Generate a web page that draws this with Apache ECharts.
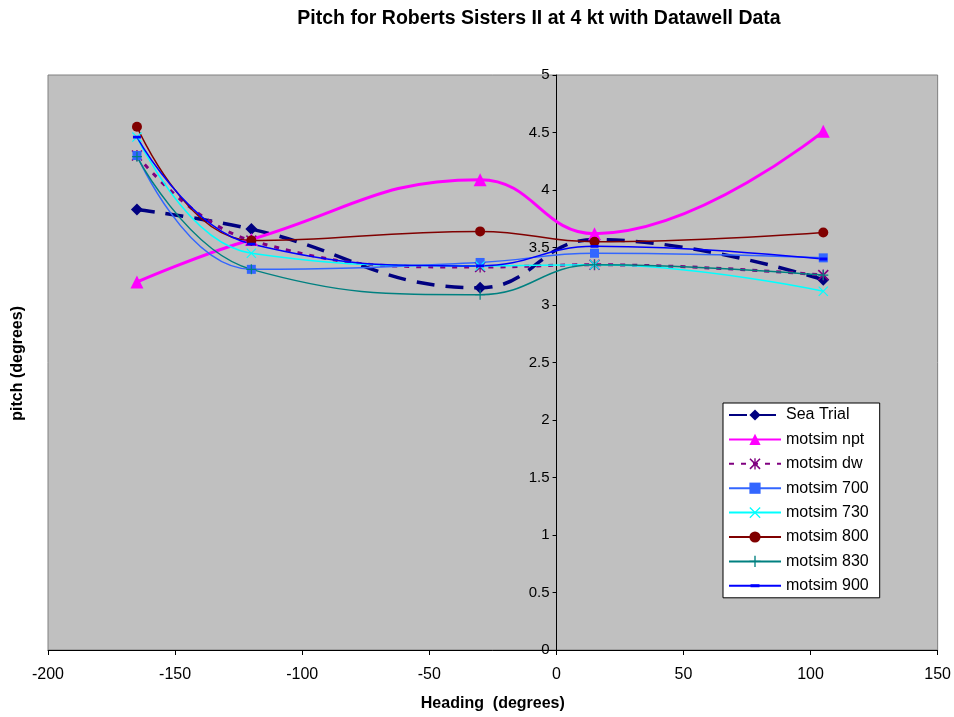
<!DOCTYPE html>
<html>
<head>
<meta charset="utf-8">
<script src="https://cdn.jsdelivr.net/npm/echarts@6/dist/echarts.min.js"></script>
<style>
  html, body { margin: 0; padding: 0; background: #fff; }
  #main { width: 954px; height: 717px; }
</style>
</head>
<body>
<div id="main"></div>
<script>
// headings (degrees) where each run was sampled
var headings = [-165, -120, -30, 15, 105];

// pitch values (degrees)
var seaTrial  = [3.83, 3.66, 3.15, 3.57, 3.22];
var motsimNpt = [3.20, 3.57, 4.09, 3.62, 4.51];
var motsimDw  = [4.30, 3.56, 3.33, 3.35, 3.26];
var motsim700 = [4.30, 3.31, 3.37, 3.45, 3.41];
var motsim730 = [4.46, 3.45, 3.34, 3.35, 3.12];
var motsim800 = [4.55, 3.56, 3.64, 3.55, 3.63];
var motsim830 = [4.29, 3.31, 3.09, 3.35, 3.26];
var motsim900 = [4.46, 3.53, 3.34, 3.51, 3.40];

var xTicks = { min: -200, max: 150, interval: 50 };
var yTicks = { min: 0, max: 5, interval: 0.5 };

var font = 'Arial, "Liberation Sans", sans-serif';

// grid box, the y axis sits on heading 0
var gridLeft = 48, gridRight = 16;
var plotW = 954 - gridLeft - gridRight;
var yAxisShift = -plotW * (0 - xTicks.min) / (xTicks.max - xTicks.min);

// marker shapes Excel used
var starPath = 'path://M0,1 L1,0 L10,9 L9,10 Z M9,0 L10,1 L1,10 L0,9 Z M4.4,0 L5.6,0 L5.6,10 L4.4,10 Z';
var xPath = 'path://M0,0.8 L0.8,0 L10,9.2 L9.2,10 Z M9.2,0 L10,0.8 L0.8,10 L0,9.2 Z';
var plusPath = 'path://M4.4,0 L5.6,0 L5.6,10 L4.4,10 Z M0,4.4 L10,4.4 L10,5.6 L0,5.6 Z';
// short dash inside a square box (the empty sub paths keep the box square)
var dashPath = 'path://M0,0 L10,0 L10,0 Z M0,10 L10,10 L10,10 Z M1,3.6 L9,3.6 L9,6.4 L1,6.4 Z';

function pairs(vals) {
  return headings.map(function (h, i) { return [h, vals[i]]; });
}

function line(name, vals, color, width, type, symbol, size) {
  return {
    name: name,
    type: 'line',
    data: pairs(vals),
    smooth: 0.45,
    symbol: symbol,
    symbolSize: size,
    showAllSymbol: true,
    lineStyle: { color: color, width: width, type: type },
    itemStyle: { color: color, opacity: 1 },
    emphasis: { disabled: true },
    animation: false
  };
}

var chart = echarts.init(document.getElementById('main'));

var option = {
  backgroundColor: '#ffffff',
  animation: false,
  title: {
    text: 'Pitch for Roberts Sisters II at 4 kt with Datawell Data',
    left: 534,
    textAlign: 'center',
    top: 4,
    textStyle: { fontFamily: font, fontSize: 19.5, fontWeight: 'bold', color: '#000' }
  },
  grid: {
    left: gridLeft, right: gridRight, top: 75, bottom: 66,
    show: true,
    backgroundColor: '#c0c0c0',
    borderColor: '#808080',
    borderWidth: 1
  },
  legend: {
    orient: 'vertical',
    left: 723,
    top: 403,
    padding: [4, 11, 4, 5],
    itemGap: 8.4,
    itemWidth: 52,
    itemHeight: 14,
    backgroundColor: '#ffffff',
    borderColor: '#000000',
    borderWidth: 1,
    textStyle: { fontFamily: font, fontSize: 16, color: '#000' },
    data: ['Sea Trial', 'motsim npt', 'motsim dw', 'motsim 700', 'motsim 730', 'motsim 800', 'motsim 830', 'motsim 900']
  },
  xAxis: {
    type: 'value',
    min: xTicks.min, max: xTicks.max, interval: xTicks.interval,
    name: 'Heading  (degrees)',
    nameLocation: 'middle',
    nameGap: 46,
    nameTextStyle: { fontFamily: font, fontSize: 16, fontWeight: 'bold', color: '#000' },
    axisLine: { onZero: false, lineStyle: { color: '#000', width: 1 } },
    axisTick: { show: true, length: 5, lineStyle: { color: '#000' } },
    axisLabel: { fontFamily: font, fontSize: 16, color: '#000', margin: 17 },
    splitLine: { show: false }
  },
  yAxis: {
    type: 'value',
    min: yTicks.min, max: yTicks.max, interval: yTicks.interval,
    offset: yAxisShift,
    axisLine: { onZero: false, lineStyle: { color: '#000', width: 1 } },
    axisTick: { show: true, length: 4, lineStyle: { color: '#000' } },
    axisLabel: { fontFamily: font, fontSize: 15, color: '#000', margin: 7 },
    splitLine: { show: false }
  },
  graphic: [{
    type: 'text',
    left: 10,
    top: 306,
    rotation: Math.PI / 2,
    style: {
      text: 'pitch (degrees)',
      font: 'bold 16px ' + font,
      fill: '#000'
    }
  }],
  series: [
    line('Sea Trial',  seaTrial,  '#000080', 3.5, [18, 11], 'diamond', 12),
    line('motsim npt', motsimNpt, '#ff00ff', 3,   'solid',  'triangle', 13),
    line('motsim dw',  motsimDw,  '#800080', 3,   [5, 7],   starPath, 11),
    line('motsim 700', motsim700, '#3366ff', 1.5, 'solid',  'rect', 9),
    line('motsim 730', motsim730, '#00ffff', 1.5, 'solid',  xPath, 10),
    line('motsim 800', motsim800, '#800000', 1.5, 'solid',  'circle', 10),
    line('motsim 830', motsim830, '#008080', 1.5, 'solid',  plusPath, 10),
    line('motsim 900', motsim900, '#0000ff', 1.5, 'solid',  dashPath, 10)
  ]
};

chart.setOption(option);
</script>
</body>
</html>
